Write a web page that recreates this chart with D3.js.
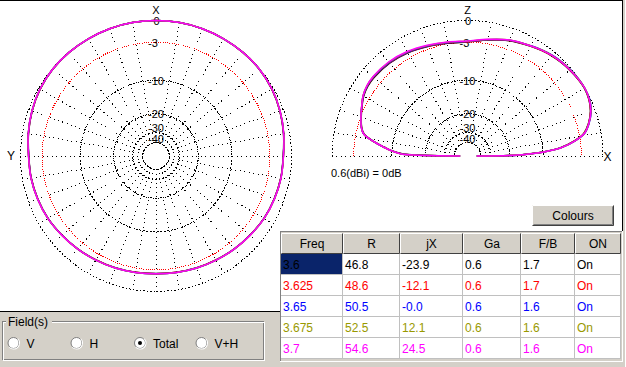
<!DOCTYPE html>
<html>
<head>
<meta charset="utf-8">
<script src="https://cdn.jsdelivr.net/npm/d3@7"></script>
<style>
  body { margin: 0; background: #d4d0c8; }
  svg { display: block; font-family: "Liberation Sans", Arial, sans-serif; }
</style>
</head>
<body>
<svg id="chart" width="626" height="367"></svg>
<script>
// table values
const freqs = ["3.6", "3.625", "3.65", "3.675", "3.7"];
const resist = ["46.8", "48.6", "50.5", "52.5", "54.6"];
const react = ["-23.9", "-12.1", "-0.0", "12.1", "24.5"];
const gains = ["0.6", "0.6", "0.6", "0.6", "0.6"];
const fbRatio = ["1.7", "1.7", "1.6", "1.6", "1.6"];
const onState = ["On", "On", "On", "On", "On"];
const headers = ["Freq", "R", "jX", "Ga", "F/B", "ON"];
const colours = ["#000000", "#ff0000", "#0000ff", "#999900", "#ff00ff"];

// polar grid
const ringDb = [0, -3, -10, -20, -30, -40];
const ringLabels = ["0", "-3", "-10", "-20", "-30", "-40"];

// azimuth pattern (dB re 0.6 dBi), azimuth 0..350 step 10
const azAngles = [0,10,20,30,40,50,60,70,80,90,100,110,120,130,140,150,160,170,
                  180,190,200,210,220,230,240,250,260,270,280,290,300,310,320,330,340,350];
const azBlack   = [0,0,-0.01,-0.03,-0.04,-0.08,-0.22,-0.48,-0.78,-1.08,-1.15,-1.28,-1.43,-1.68,-1.88,-2.08,-2.23,-2.36,
                   -2.43,-2.36,-2.23,-2.08,-1.88,-1.68,-1.43,-1.28,-1.15,-1.08,-0.78,-0.48,-0.22,-0.08,-0.04,-0.03,-0.01,0];
const azRed     = [0,0,0,-0.02,-0.04,-0.07,-0.21,-0.46,-0.77,-1.06,-1.14,-1.27,-1.42,-1.67,-1.87,-2.07,-2.22,-2.35,
                   -2.42,-2.35,-2.22,-2.07,-1.87,-1.67,-1.42,-1.27,-1.14,-1.06,-0.77,-0.46,-0.21,-0.07,-0.04,-0.02,0,0];
const azBlue    = [0,0,0,-0.02,-0.03,-0.06,-0.2,-0.45,-0.76,-1.06,-1.13,-1.26,-1.41,-1.66,-1.86,-2.06,-2.21,-2.34,
                   -2.41,-2.34,-2.21,-2.06,-1.86,-1.66,-1.41,-1.26,-1.13,-1.06,-0.76,-0.45,-0.2,-0.06,-0.03,-0.02,0,0];
const azOlive   = [0,0,0,-0.02,-0.03,-0.06,-0.2,-0.45,-0.75,-1.05,-1.12,-1.25,-1.4,-1.65,-1.85,-2.05,-2.2,-2.33,
                   -2.4,-2.33,-2.2,-2.05,-1.85,-1.65,-1.4,-1.25,-1.12,-1.05,-0.75,-0.45,-0.2,-0.06,-0.03,-0.02,0,0];
const azMagenta = [0,0,0,-0.02,-0.03,-0.06,-0.2,-0.45,-0.75,-1.05,-1.12,-1.25,-1.4,-1.65,-1.85,-2.05,-2.2,-2.33,
                   -2.4,-2.33,-2.2,-2.05,-1.85,-1.65,-1.4,-1.25,-1.12,-1.05,-0.75,-0.45,-0.2,-0.06,-0.03,-0.02,0,0];

// elevation pattern, elevation angle 0..180 (0 = +X)
const elAngles = [0,1,2,3,5,8,11,15,20,25,30,35,40,45,50,55,60,70,80,90,
                  100,110,120,130,140,145,150,155,160,165,168,171,174,176,178,179,180];
const elBlack   = [-46,-17.5,-13.2,-10,-6.5,-3.9,-2.3,-1.35,-0.6,-0.2,-0.05,-0.12,-0.25,-0.4,-0.6,-0.85,-1.15,-1.7,-2.4,-2.95,
                   -2.9,-2.6,-2.2,-1.9,-1.8,-1.85,-2.1,-2.6,-3.1,-3.65,-4.25,-5.95,-8.3,-9.9,-12.5,-17,-50];
const elRed     = [-46,-17.3,-13.1,-9.9,-6.4,-3.85,-2.25,-1.32,-0.57,-0.17,-0.02,-0.1,-0.22,-0.37,-0.57,-0.83,-1.13,-1.68,-2.4,-2.95,
                   -2.85,-2.55,-2.15,-1.85,-1.72,-1.78,-2.05,-2.58,-3.08,-3.62,-4.22,-5.92,-8.25,-9.85,-12.2,-16.5,-50];
const elBlue    = [-46,-17.1,-13,-9.8,-6.3,-3.78,-2.18,-1.27,-0.5,-0.1,0,-0.04,-0.14,-0.28,-0.48,-0.76,-1.08,-1.62,-2.35,-2.9,
                   -2.82,-2.52,-2.12,-1.82,-1.7,-1.76,-2.03,-2.56,-3.06,-3.6,-4.2,-5.9,-8.2,-9.8,-12.1,-16.2,-50];
const elOlive   = [-46,-17,-13,-9.8,-6.3,-3.8,-2.2,-1.3,-0.53,-0.13,0,-0.06,-0.17,-0.32,-0.52,-0.78,-1.1,-1.6,-2.32,-2.85,
                   -2.75,-2.45,-2.05,-1.75,-1.64,-1.72,-2.0,-2.55,-3.05,-3.6,-4.2,-5.9,-8.2,-9.8,-12,-16,-50];
const elMagenta = [-46,-17,-13,-9.8,-6.3,-3.8,-2.2,-1.3,-0.55,-0.15,0,-0.08,-0.2,-0.35,-0.55,-0.8,-1.1,-1.6,-2.3,-2.8,
                   -2.7,-2.4,-2.0,-1.7,-1.6,-1.7,-2.0,-2.55,-3.05,-3.6,-4.2,-5.9,-8.2,-9.8,-12,-16,-50];

const azSeries = [azBlack, azRed, azBlue, azOlive, azMagenta];
const elSeries = [elBlack, elRed, elBlue, elOlive, elMagenta];

const svg = d3.select("#chart");
const R = 135.5;
// ARRL log scale: radius fraction = 0.89^(-dB/2)
const expo = d3.scaleLinear().domain([0, -2]).range([0, Math.log(0.89)]);
const radius = d3.scaleLinear().domain([0, 1]).range([0, R]);
const rOf = db => radius(Math.exp(expo(db)));
const rad = d => d * Math.PI / 180;

// ---- background panels ----
svg.append("rect").attr("x", 0).attr("y", 0).attr("width", 626).attr("height", 367).attr("fill", "#d4d0c8");
svg.append("rect").attr("x", 0).attr("y", 1).attr("width", 622).attr("height", 231).attr("fill", "#fff");
svg.append("rect").attr("x", 0).attr("y", 231).attr("width", 281).attr("height", 80).attr("fill", "#fff");
svg.append("line").attr("x1", 0).attr("x2", 623).attr("y1", 0.5).attr("y2", 0.5).attr("stroke", "#000");
svg.append("line").attr("x1", 622.5).attr("x2", 622.5).attr("y1", 0).attr("y2", 232).attr("stroke", "#000");
svg.append("line").attr("x1", 625.5).attr("x2", 625.5).attr("y1", 0).attr("y2", 367).attr("stroke", "#fff");
svg.append("line").attr("x1", 0).attr("x2", 281).attr("y1", 311.5).attr("y2", 311.5).attr("stroke", "#000");

function grid(g, cx, cy, half) {
  ringDb.forEach(db => {
    const r = rOf(db);
    const arc = d3.arc().innerRadius(r).outerRadius(r)
      .startAngle(half ? -Math.PI / 2 : 0).endAngle(half ? Math.PI / 2 : 2 * Math.PI);
    g.append("path").attr("d", arc()).attr("transform", `translate(${cx},${cy})`)
      .attr("fill", "none").attr("stroke", db === -3 ? "#ff0000" : "#000")
      .attr("stroke-width", 1).attr("shape-rendering", "crispEdges")
      .attr("stroke-dasharray", db === -3 ? "1,3.5" : "1,2.5");
  });
  const r0 = rOf(-40), r1 = rOf(0);
  // screen angles, counter-clockwise from +x; the upward spoke carries the labels
  const spokes = half ? d3.range(0, 181, 10) : d3.range(0, 360, 10);
  spokes.forEach(t0 => {
    if (t0 === 90) return;
    const t = rad(t0);
    g.append("line")
      .attr("x1", cx + r0 * Math.cos(t)).attr("y1", cy - r0 * Math.sin(t))
      .attr("x2", cx + r1 * Math.cos(t)).attr("y2", cy - r1 * Math.sin(t))
      .attr("stroke", "#000").attr("shape-rendering", "crispEdges")
      .attr("stroke-dasharray", "1,3.5");
  });
  const nudge = { "-30": -5, "-40": -4 };
  ringDb.forEach((db, i) => {
    const lab = ringLabels[i];
    g.append("text")
      .attr("x", lab === "0" ? cx + 0.5 : cx - 8)
      .attr("y", cy - rOf(db) + (nudge[lab] || 0) + 0.5)
      .attr("dy", "0.35em")
      .attr("text-anchor", lab === "0" ? "middle" : "start")
      .attr("font-size", 11).text(lab);
  });
}

// ---- azimuth plot ----
const az = svg.append("g");
const azC = [156, 156];
grid(az, azC[0], azC[1], false);
const azLine = d3.lineRadial()
  .angle((d, i) => -rad(azAngles[i]))
  .radius(d => rOf(d))
  .curve(d3.curveCatmullRomClosed);
azSeries.forEach((s, k) => {
  az.append("path").attr("d", azLine(s)).attr("transform", `translate(${azC})`)
    .attr("fill", "none").attr("stroke", colours[k]).attr("stroke-width", 1.5);
});
az.append("text").attr("x", 156).attr("y", 10).attr("dy", "0.35em").attr("text-anchor", "middle")
  .attr("font-size", 11).text("X");
az.append("text").attr("x", 11).attr("y", 156).attr("dy", "0.35em").attr("text-anchor", "middle")
  .attr("font-size", 12).text("Y");

// ---- elevation plot ----
const el = svg.append("g");
const elC = [467.5, 156];
grid(el, elC[0], elC[1], true);
const elLine = d3.lineRadial()
  .angle((d, i) => rad(90 - elAngles[i]))
  .radius(d => rOf(d))
  .curve(d3.curveCatmullRom.alpha(0.5));
elSeries.forEach((s, k) => {
  el.append("path").attr("d", elLine(s)).attr("transform", `translate(${elC})`)
    .attr("fill", "none").attr("stroke", colours[k]).attr("stroke-width", 1.5);
});
el.append("text").attr("x", 467.5).attr("y", 10).attr("dy", "0.35em").attr("text-anchor", "middle")
  .attr("font-size", 11).text("Z");
el.append("text").attr("x", 607.5).attr("y", 157).attr("dy", "0.35em").attr("text-anchor", "middle")
  .attr("font-size", 12).text("X");
svg.append("text").attr("x", 331).attr("y", 177).attr("font-size", 11).text("0.6(dBi) = 0dB");

// ---- Colours button ----
const btn = svg.append("g");
btn.append("rect").attr("x", 532).attr("y", 205).attr("width", 82).attr("height", 21).attr("fill", "#d4d0c8");
btn.append("path").attr("d", "M532.5,225.5 V205.5 H613.5").attr("fill", "none").attr("stroke", "#fff");
btn.append("path").attr("d", "M532.5,225.5 H613.5 V205.5").attr("fill", "none").attr("stroke", "#404040");
btn.append("path").attr("d", "M533.5,224.5 H612.5 V206.5").attr("fill", "none").attr("stroke", "#808080");
btn.append("text").attr("x", 573).attr("y", 220).attr("text-anchor", "middle").attr("font-size", 12).text("Colours");

// ---- table ----
const colX = [281, 343, 400, 463, 521, 575, 621];
const headTop = 233, headH = 21, rowH = 21;
const cols = [freqs, resist, react, gains, fbRatio, onState];
const tbl = svg.append("g");
tbl.append("rect").attr("x", 281).attr("y", headTop).attr("width", 340).attr("height", headH + rowH * 5)
  .attr("fill", "#fff");
headers.forEach((h, c) => {
  const x0 = colX[c], x1 = colX[c + 1];
  tbl.append("rect").attr("x", x0).attr("y", headTop).attr("width", x1 - x0).attr("height", headH).attr("fill", "#d4d0c8");
  tbl.append("path").attr("d", `M${x0 + 0.5},${headTop + headH - 0.5} V${headTop + 0.5} H${x1 - 0.5}`)
    .attr("fill", "none").attr("stroke", "#fff");
  tbl.append("path").attr("d", `M${x0 + 0.5},${headTop + headH - 0.5} H${x1 - 0.5} V${headTop + 0.5}`)
    .attr("fill", "none").attr("stroke", "#404040");
  tbl.append("text").attr("x", (x0 + x1) / 2).attr("y", headTop + 15).attr("text-anchor", "middle")
    .attr("font-size", 12).text(h);
});
// selected cell
tbl.append("rect").attr("x", colX[0]).attr("y", headTop + headH).attr("width", colX[1] - colX[0] - 1)
  .attr("height", rowH - 1).attr("fill", "#0a246a");
// grid lines
for (let r = 1; r <= 5; r++) {
  const y = headTop + headH + rowH * r - 0.5;
  tbl.append("line").attr("x1", colX[0]).attr("x2", colX[6]).attr("y1", y).attr("y2", y).attr("stroke", "#c0c0c0");
}
colX.slice(1).forEach(x => {
  tbl.append("line").attr("x1", x - 0.5).attr("x2", x - 0.5).attr("y1", headTop + headH)
    .attr("y2", headTop + headH + rowH * 5).attr("stroke", "#c0c0c0");
});
freqs.forEach((f, r) => {
  cols.forEach((col, c) => {
    tbl.append("text").attr("x", colX[c] + 2).attr("y", headTop + headH + rowH * r + 15)
      .attr("font-size", 12).attr("fill", colours[r]).text(col[r]);
  });
});
tbl.append("line").attr("x1", 280.5).attr("x2", 280.5).attr("y1", 231).attr("y2", 361).attr("stroke", "#808080");
tbl.append("line").attr("x1", 280).attr("x2", 623).attr("y1", 231.5).attr("y2", 231.5).attr("stroke", "#808080");
tbl.append("line").attr("x1", 280).attr("x2", 623).attr("y1", 361.5).attr("y2", 361.5).attr("stroke", "#fff");
tbl.append("line").attr("x1", 622.5).attr("x2", 622.5).attr("y1", 231).attr("y2", 362).attr("stroke", "#fff");

// ---- Field(s) group ----
const fg = svg.append("g");
fg.append("rect").attr("x", 2.5).attr("y", 321.5).attr("width", 261).attr("height", 38)
  .attr("fill", "none").attr("stroke", "#808080");
fg.append("rect").attr("x", 3.5).attr("y", 322.5).attr("width", 261).attr("height", 38)
  .attr("fill", "none").attr("stroke", "#fff");
fg.append("rect").attr("x", 6).attr("y", 314).attr("width", 46).attr("height", 14).attr("fill", "#d4d0c8");
fg.append("text").attr("x", 8).attr("y", 326).attr("font-size", 12).text("Field(s)");
const radios = ["V", "H", "Total", "V+H"];
const radioX = [13.5, 76.5, 140, 201.5];
radios.forEach((lab, i) => {
  const cx = radioX[i], cy = 343;
  fg.append("circle").attr("cx", cx).attr("cy", cy).attr("r", 5.5).attr("fill", "#fff")
    .attr("stroke", "#808080");
  fg.append("path").attr("d", d3.arc().innerRadius(5.5).outerRadius(6.5).startAngle(Math.PI * 0.25).endAngle(Math.PI * 1.25)())
    .attr("transform", `translate(${cx},${cy})`).attr("fill", "#fff");
  if (lab === "Total") fg.append("circle").attr("cx", cx).attr("cy", cy).attr("r", 2).attr("fill", "#000");
  fg.append("text").attr("x", cx + 13).attr("y", cy + 4.5).attr("font-size", 12).text(lab);
});
</script>
</body>
</html>
